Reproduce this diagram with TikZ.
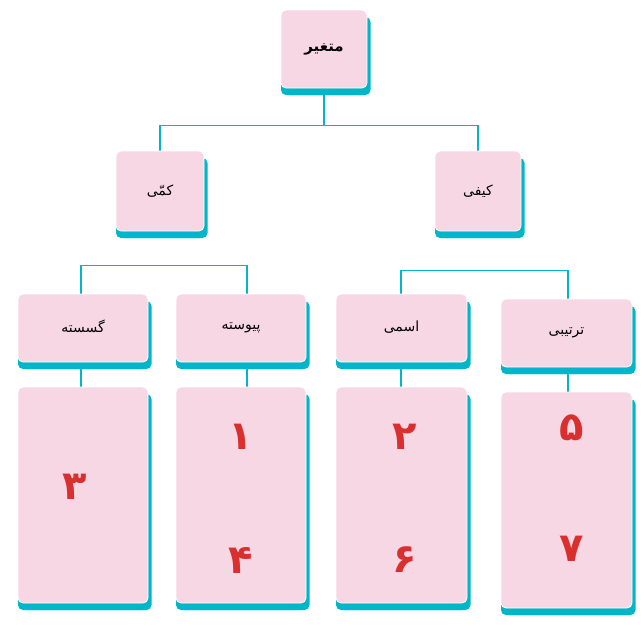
\documentclass[tikz,border=0pt]{standalone}
\usepackage{fontspec}
\usetikzlibrary{shadows,backgrounds}
\TeXXeTstate=1
\newfontfamily\fa[Script=Arabic]{DejaVu Sans}
\definecolor{boxpink}{HTML}{F8D7E4}
\definecolor{shteal}{HTML}{00B6C8}
\definecolor{numred}{HTML}{D9302F}
\tikzset{
  pbox/.style={rectangle, rounded corners=5pt, fill=boxpink, draw=white, line width=0.8pt,
    inner sep=0pt, font=\fa\fontsize{14}{16}\selectfont,
    general shadow={fill=shteal, shadow xshift=3.5pt, shadow yshift=-7pt},
    general shadow={fill=shteal, shadow yshift=-7pt}},
  conn/.style={draw=shteal, line width=1.5pt},
  num/.style={text=numred, font=\fa\bfseries\fontsize{40}{42}\selectfont, inner sep=0pt},
}
\begin{document}
\begin{tikzpicture}[x=1pt, y=-1pt]
\useasboundingbox (0,0) rectangle (644,625);
% boxes
\node[pbox, minimum width=86pt, minimum height=78pt, font=\fa\bfseries\fontsize{15}{17}\selectfont] (top) at (324,49) {\beginR متغیر\endR};
\node[pbox, minimum width=88pt, minimum height=80pt] (kami) at (160,191) {\beginR کمّی\endR};
\node[pbox, minimum width=86pt, minimum height=80pt] (keyfi) at (478,191) {\beginR کیفی\endR};
\node[pbox, minimum width=130pt, minimum height=68pt] (gos) at (83,328) {\raisebox{4pt}{\beginR گسسته\endR}};
\node[pbox, minimum width=130pt, minimum height=68pt] (pey) at (241,328) {\raisebox{4pt}{\beginR پیوسته\endR}};
\node[pbox, minimum width=131pt, minimum height=68pt] (esm) at (401.5,328) {\raisebox{4pt}{\beginR اسمی\endR}};
\node[pbox, minimum width=131pt, minimum height=68pt] (tar) at (566.5,333) {\beginR ترتیبی\endR};
\node[pbox, minimum width=130pt, minimum height=216pt] (gosB) at (83,495) {};
\node[pbox, minimum width=130pt, minimum height=216pt] (peyB) at (241,495) {};
\node[pbox, minimum width=131pt, minimum height=216pt] (esmB) at (401.5,495) {};
\node[pbox, minimum width=131pt, minimum height=216pt] (tarB) at (566.5,500) {};
% numbers
\node[num] (n3) at (75,487) {۳};
\node[num] (n1) at (241,437) {۱};
\node[num] (n4) at (241,560) {۴};
\node[num] (n2) at (405,437) {۲};
\node[num] (n6) at (405,560) {۶};
\node[num] (n5) at (572,428) {۵};
\node[num] (n7) at (572,549) {۷};
% connectors, under the boxes
\begin{scope}[on background layer]
\draw[conn] (top.south) -- ++(0,37) coordinate (topsplit) -| (kami.north);
\draw[conn] (topsplit) -| (keyfi.north);
\draw[conn] ([xshift=-2pt]gos.north) -- ++(0,-28) -| ([xshift=6pt]pey.north);
\draw[conn] ([xshift=-0.5pt]esm.north) -- ++(0,-23) -| ([xshift=1.5pt]tar.north);
\draw[conn] ([xshift=-2pt]gos.south) -- ([xshift=-2pt]gosB.north);
\draw[conn] ([xshift=6pt]pey.south) -- ([xshift=6pt]peyB.north);
\draw[conn] ([xshift=-0.5pt]esm.south) -- ([xshift=-0.5pt]esmB.north);
\draw[conn] ([xshift=1.5pt]tar.south) -- ([xshift=1.5pt]tarB.north);
\end{scope}
\end{tikzpicture}
\end{document}
